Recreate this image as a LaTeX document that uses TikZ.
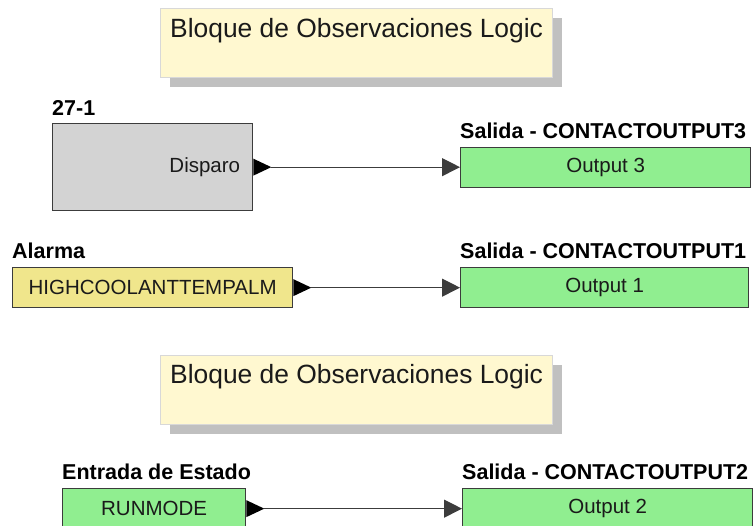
\documentclass[tikz,border=0pt]{standalone}
\usepackage{fontspec}
\setmainfont{Liberation Sans}
\usetikzlibrary{arrows.meta,shadows}
\definecolor{bordc}{HTML}{3C3C3C}
\definecolor{greyc}{HTML}{D3D3D3}
\definecolor{greenc}{HTML}{90EE90}
\definecolor{khakic}{HTML}{F0E68C}
\definecolor{notec}{HTML}{FFF8D0}
\definecolor{noteline}{HTML}{D8D8D8}
\definecolor{shadowc}{HTML}{C0C0C0}
\definecolor{txtc}{HTML}{1A1A1A}
\begin{document}
\begin{tikzpicture}[x=1pt,y=-1pt,
  blk/.style={draw=bordc, line width=1.3pt, inner sep=0pt, text=txtc,
    font=\fontsize{20.5}{24}\selectfont, anchor=north west},
  bodytxt/.style={inner sep=0pt, text=txtc, font=\fontsize{20.5}{24}\selectfont},
  lbl/.style={inner sep=0pt, text=black, font=\fontsize{21.5}{24}\selectfont\bfseries, anchor=base west},
  note/.style={draw=noteline, line width=0.8pt, fill=notec, minimum width=392, minimum height=69,
    anchor=north west, inner sep=0pt,
    drop shadow={shadow xshift=10pt, shadow yshift=-10pt, fill=shadowc, opacity=1}},
  notetxt/.style={inner sep=0pt, text=txtc, font=\fontsize{26.4}{30}\selectfont, anchor=base west},
  portc/.style={fill=black},
  conn/.style={draw=bordc, line width=1.2pt, -{Triangle[length=18pt,width=18pt]}}
]
\useasboundingbox[fill=white] (0,0) rectangle (754,525);

% note 1
\node[note] (n1) at (160,8) {};
\node[notetxt] (n1t) at ([shift={(10pt,-29pt)}]n1.north west) {Bloque de Observaciones Logic};

% row 1
\node[blk, fill=greyc, minimum width=200, minimum height=87] (b27) at (52,123) {};
\node[bodytxt, anchor=east] (d27) at ([xshift=-13pt]b27.east) {Disparo};
\node[lbl] (l27) at ([yshift=8pt]b27.north west) {27-1};
\node[blk, fill=greenc, minimum width=290, minimum height=40] (o3) at (460,147) {Output 3};
\node[lbl] (lo3) at ([yshift=9pt]o3.north west) {Salida - CONTACTOUTPUT3};
\fill[portc] (b27.east) ++(0,-8.5) -- ++(18,8.5) -- ++(-18,8.5) -- cycle;
\coordinate (p27) at ([xshift=18pt]b27.east);
\draw[conn] (p27) -- (p27 -| o3.west);

% row 2
\node[blk, fill=khakic, minimum width=280, minimum height=40] (hc) at (12,267) {HIGHCOOLANTTEMPALM};
\node[lbl] (lhc) at ([yshift=9pt]hc.north west) {Alarma};
\node[blk, fill=greenc, minimum width=288, minimum height=40] (o1) at (460,267) {Output 1};
\node[lbl] (lo1) at ([yshift=9pt]o1.north west) {Salida - CONTACTOUTPUT1};
\fill[portc] (hc.east) ++(0,-8.5) -- ++(18,8.5) -- ++(-18,8.5) -- cycle;
\coordinate (phc) at ([xshift=18pt]hc.east);
\draw[conn] (phc) -- (phc -| o1.west);

% note 2
\node[note] (n2) at (160,355) {};
\node[notetxt] (n2t) at ([shift={(10pt,-28pt)}]n2.north west) {Bloque de Observaciones Logic};

% row 3
\node[blk, fill=greenc, minimum width=183, minimum height=40] (rm) at (62,488) {RUNMODE};
\node[lbl] (lrm) at ([yshift=9pt]rm.north west) {Entrada de Estado};
\node[blk, fill=greenc, minimum width=290, minimum height=40] (o2) at (462,488) {Output 2};
\node[lbl] (lo2) at ([yshift=9pt]o2.north west) {Salida - CONTACTOUTPUT2};
\fill[portc] (rm.east) ++(0,-8.5) -- ++(18,8.5) -- ++(-18,8.5) -- cycle;
\coordinate (prm) at ([xshift=18pt]rm.east);
\draw[conn] (prm) -- (prm -| o2.west);
\end{tikzpicture}
\end{document}
